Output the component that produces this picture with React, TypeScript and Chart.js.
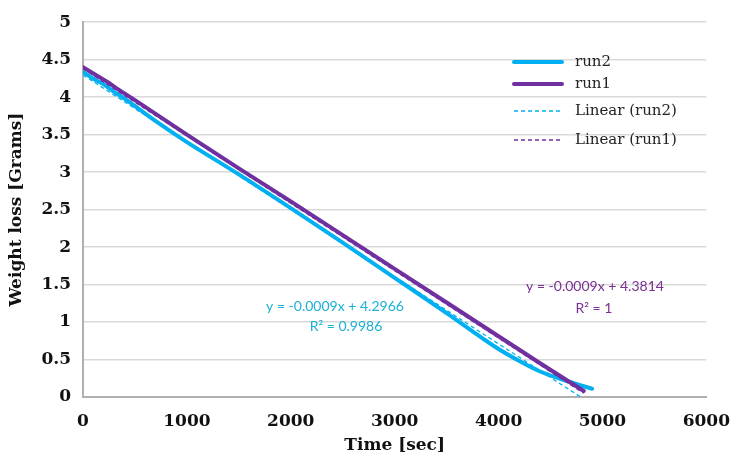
import React, { useEffect, useRef } from "react";
import { Chart, registerables } from "chart.js";

Chart.register(...registerables);

// ---- data ----
const run1Times = [0, 120, 250, 320, 500, 750, 1000, 1500, 2000, 2500, 3000, 3500, 4000, 4400, 4820];
const run1Values = [4.40, 4.30, 4.19, 4.12, 3.96, 3.73, 3.50, 3.05, 2.61, 2.16, 1.71, 1.26, 0.81, 0.45, 0.08];
const run2Times = [0, 60, 120, 200, 300, 400, 700, 1000, 1500, 2000, 2500, 3000, 3500, 4000, 4200, 4400, 4600, 4800, 4900];
const run2Values = [4.34, 4.28, 4.23, 4.17, 4.07, 3.98, 3.68, 3.40, 2.97, 2.52, 2.06, 1.59, 1.12, 0.64, 0.48, 0.34, 0.24, 0.15, 0.11];
const trend2Times = [0, 4790];
const trend2Values = [4.2966, 0.0];
const trend1Times = [0, 4820];
const trend1Values = [4.3814, 0.05];
const xTicks = [0, 1000, 2000, 3000, 4000, 5000, 6000];
const yTicks = [0, 0.5, 1, 1.5, 2, 2.5, 3, 3.5, 4, 4.5, 5];
const legendLabels = ["run2", "run1", "Linear (run2)", "Linear (run1)"];
const eq2Lines = ["y = -0.0009x + 4.2966", "R² = 0.9986"];
const eq1Lines = ["y = -0.0009x + 4.3814", "R² = 1"];

const CYAN = "#00B0F0";
const PURPLE = "#7030A0";
const CYAN_TEXT = "#1AB0D8";
const PURPLE_TEXT = "#7A2F92";

const pts = (xs: number[], ys: number[]) => xs.map((x, i) => ({ x, y: ys[i] }));

const overlayPlugin = {
  id: "overlay",
  afterDraw(chart: any) {
    const ctx = chart.ctx;
    ctx.save();
    // legend
    const items = [
      { color: CYAN, dash: [], width: 4, y: 62 },
      { color: PURPLE, dash: [], width: 4, y: 84 },
      { color: CYAN, dash: [4, 3], width: 1.3, y: 111 },
      { color: PURPLE, dash: [4, 3], width: 1.3, y: 140 },
    ];
    items.forEach((it, i) => {
      ctx.beginPath();
      ctx.setLineDash(it.dash);
      ctx.strokeStyle = it.color;
      ctx.lineWidth = it.width;
      ctx.lineCap = it.dash.length ? "butt" : "round";
      ctx.moveTo(514, it.y);
      ctx.lineTo(562, it.y);
      ctx.stroke();
      ctx.setLineDash([]);
      ctx.fillStyle = "#222";
      ctx.font = "15px 'DejaVu Serif'";
      ctx.textAlign = "left";
      ctx.textBaseline = "middle";
      ctx.fillText(legendLabels[i], 575, it.y);
    });
    // equations
    ctx.font = "14px Lato";
    ctx.textAlign = "center";
    ctx.textBaseline = "middle";
    ctx.fillStyle = CYAN_TEXT;
    ctx.fillText(eq2Lines[0], 335, 306);
    ctx.fillText(eq2Lines[1], 346, 326);
    ctx.fillStyle = PURPLE_TEXT;
    ctx.fillText(eq1Lines[0], 595, 286);
    ctx.fillText(eq1Lines[1], 594, 308);
    ctx.restore();
  },
};

export default function App() {
  const ref = useRef<HTMLCanvasElement | null>(null);
  useEffect(() => {
    if (!ref.current) return;
    const chart = new Chart(ref.current, {
      type: "scatter",
      data: {
        datasets: [
          {
            label: "Linear (run1)",
            data: pts(trend1Times, trend1Values),
            showLine: true,
            borderColor: PURPLE,
            borderWidth: 1.3,
            borderDash: [4, 3],
            pointRadius: 0,
          },
          {
            label: "Linear (run2)",
            data: pts(trend2Times, trend2Values),
            showLine: true,
            borderColor: CYAN,
            borderWidth: 1.3,
            borderDash: [4, 3],
            pointRadius: 0,
          },
          {
            label: "run1",
            data: pts(run1Times, run1Values),
            showLine: true,
            borderColor: PURPLE,
            borderWidth: 4,
            pointRadius: 0,
            borderCapStyle: "round",
          },
          {
            label: "run2",
            data: pts(run2Times, run2Values),
            showLine: true,
            borderColor: CYAN,
            borderWidth: 4,
            pointRadius: 0,
            borderCapStyle: "round",
            cubicInterpolationMode: "monotone",
          },
        ],
      },
      options: {
        responsive: false,
        animation: false,
        layout: { padding: { top: 18, right: 26, left: 0, bottom: 0 } },
        plugins: { legend: { display: false }, tooltip: { enabled: false } },
        scales: {
          x: {
            type: "linear",
            min: 0,
            max: 6000,
            afterFit: (s: any) => { s.height = 64; },
            afterBuildTicks: (s: any) => { s.ticks = xTicks.map((v) => ({ value: v })); },
            grid: { display: false, drawTicks: false },
            border: { color: "#AFAFAF", width: 2 },
            ticks: {
              padding: 14,
              color: "#111",
              font: { family: "'DejaVu Serif'", size: 17, weight: "bold" },
              callback: (v: any) => String(v),
            },
            title: {
              display: true,
              text: "Time [sec]",
              color: "#111",
              font: { family: "'DejaVu Serif'", size: 17, weight: "bold" },
              padding: { top: 0, bottom: 5 },
            },
          },
          y: {
            type: "linear",
            min: 0,
            max: 5,
            afterFit: (s: any) => { s.width = 83; },
            afterBuildTicks: (s: any) => { s.ticks = yTicks.map((v) => ({ value: v })); },
            grid: { color: "#D9D9D9", lineWidth: 1.5, drawTicks: false },
            border: { color: "#AFAFAF", width: 2 },
            ticks: {
              padding: 12,
              color: "#111",
              font: { family: "'DejaVu Serif'", size: 17, weight: "bold" },
              callback: (v: any) => String(v),
            },
            title: {
              display: true,
              text: "Weight loss [Grams]",
              color: "#111",
              font: { family: "'DejaVu Serif'", size: 17, weight: "bold" },
              padding: { top: 6, bottom: 0 },
            },
          },
        },
      },
      plugins: [overlayPlugin],
    } as any);
    return () => chart.destroy();
  }, []);
  return (
    <div style={{ position: "absolute", left: 0, top: 0, background: "#fff" }}>
      <canvas ref={ref} width={744} height={461} style={{ display: "block", width: 744, height: 461 }} />
    </div>
  );
}
